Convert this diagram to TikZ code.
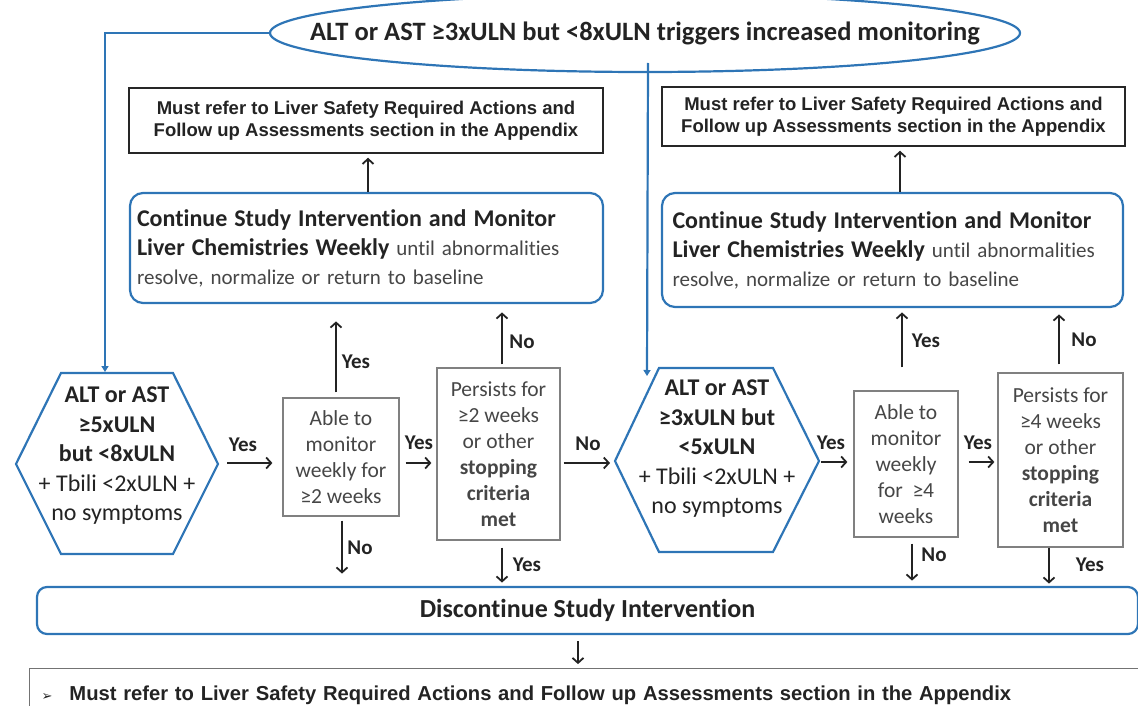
\documentclass[tikz,border=0pt]{standalone}
\usepackage{fontspec}
\setmainfont{Carlito}[Ligatures=NoCommon]
\newfontfamily\arialb{Liberation Sans}
\newfontfamily\dejavu{DejaVu Sans}
\usetikzlibrary{arrows.meta,shapes.geometric}
\definecolor{lblue}{RGB}{46,117,182}
\definecolor{txt}{RGB}{35,35,35}
\definecolor{gtxt}{RGB}{70,70,70}
\tikzset{
  bluebox/.style={draw=lblue, line width=2.2pt, rounded corners=13pt},
  refbox/.style={draw=black!85, line width=1.5pt, text=txt, font=\arialb\bfseries\fontsize{18.5}{22}\selectfont, align=center, inner sep=0pt},
  qbox/.style={draw=black!50, line width=1.2pt, text=gtxt, font=\fontsize{21.5}{26}\selectfont, align=center, inner sep=0pt},
  hexline/.style={draw=lblue, line width=2.2pt, line join=miter},
  hextext/.style={font=\fontsize{24}{29.5}\selectfont, align=center, text=txt, inner sep=0pt},
  conn/.style={draw=txt, line width=1.8pt, -{Straight Barb[length=5pt,width=11pt]}},
  bconn/.style={draw=lblue, line width=2.2pt, -{Triangle[length=6pt,width=7pt]}},
  lab/.style={font=\bfseries\fontsize{21}{22}\selectfont, text=txt, inner sep=0pt},
  contbox/.style={bluebox, text=gtxt, font=\fontsize{21}{29}\selectfont, align=left, inner sep=0pt},
}
\begin{document}
\begin{tikzpicture}[x=1pt,y=-1pt]
\useasboundingbox (0,0) rectangle (1138,706);

% top ellipse
\node[draw=lblue, line width=2.2pt, ellipse, minimum width=750pt, minimum height=78pt,
      inner xsep=-80pt, inner ysep=0pt,
      text=txt, font=\bfseries\fontsize{26.5}{28}\selectfont] (top) at (645,33)
  {ALT or AST ≥3xULN but <8xULN triggers increased monitoring};

% reference boxes
\node[refbox, minimum width=474pt, minimum height=65pt] (refL) at (366,120.5)
  {Must refer to Liver Safety Required Actions and\\Follow up Assessments section in the Appendix};
\node[refbox, minimum width=463pt, minimum height=59pt] (refR) at (893.5,116.5)
  {Must refer to Liver Safety Required Actions and\\Follow up Assessments section in the Appendix};

% continue boxes
\node[contbox, minimum width=473pt, minimum height=110pt, text width=459pt] (contL) at (366.5,248)
  {{\bfseries\color{txt}\fontsize{24}{29}\selectfont Continue Study Intervention and Monitor}\\
   {\bfseries\color{txt}\fontsize{24}{29}\selectfont Liver Chemistries Weekly} until abnormalities\\
   resolve, normalize or return to baseline};
\node[contbox, minimum width=461pt, minimum height=114pt, text width=440pt] (contR) at (892.5,250)
  {{\bfseries\color{txt}\fontsize{24}{29}\selectfont Continue Study Intervention and Monitor}\\
   {\bfseries\color{txt}\fontsize{24}{29}\selectfont Liver Chemistries Weekly} until abnormalities\\
   resolve, normalize or return to baseline};

% hexagons
\draw[hexline] (16,464) -- (61,373) -- (173,373) -- (218,464) -- (173,554) -- (61,554) -- cycle;
\node[hextext] (hexL) at (117,456)
  {\textbf{ALT or AST}\\\textbf{≥5xULN}\\\textbf{but <8xULN}\\+ Tbili <2xULN +\\no symptoms};
\draw[hexline] (615,461) -- (659,368) -- (773,368) -- (819,461) -- (773,552) -- (659,552) -- cycle;
\node[hextext] (hexR) at (717,449)
  {\textbf{ALT or AST}\\\textbf{≥3xULN but}\\\textbf{<5xULN}\\+ Tbili <2xULN +\\no symptoms};
\coordinate (hexLtop) at (105,372);
\coordinate (hexLe) at (218,463);
\coordinate (hexRtop) at (647,376);
\coordinate (hexRw) at (615,463);
\coordinate (hexRe) at (819,462);
\coordinate (topdrop) at (648,63);

% question boxes
\node[qbox, minimum width=116pt, minimum height=118pt] (box1) at (341,457)
  {Able to\\monitor\\weekly for\\≥2 weeks};
\node[qbox, minimum width=123pt, minimum height=172pt] (box2) at (498.5,454)
  {Persists for\\≥2 weeks\\or other\\\textbf{stopping}\\\textbf{criteria}\\\textbf{met}};
\node[qbox, minimum width=104pt, minimum height=146pt] (box3) at (906,464)
  {Able to\\monitor\\weekly\\for \ ≥4\\weeks};
\node[qbox, minimum width=125pt, minimum height=174pt] (box4) at (1060.5,460)
  {Persists for\\≥4 weeks\\or other\\\textbf{stopping}\\\textbf{criteria}\\\textbf{met}};

% discontinue
\node[bluebox, rounded corners=10pt, minimum width=1101pt, minimum height=47pt, inner sep=0pt,
      text=txt, font=\bfseries\fontsize{26}{28}\selectfont] (disc) at (587.5,610.5)
  {Discontinue Study Intervention};

% final box
\node[draw=black!55, line width=1.2pt, anchor=north west, minimum width=1140pt, minimum height=54pt,
      text width=1120pt, align=left, inner xsep=12pt, inner ysep=0pt, text=txt,
      font=\arialb\bfseries\fontsize{20.2}{22}\selectfont] (final) at (29,668)
  {{\dejavu\fontsize{13}{22}\selectfont ➢}\hspace{17pt}Must refer to Liver Safety Required Actions and Follow up Assessments section in the Appendix};

% blue connectors
\draw[bconn] (top.west) -| (hexLtop);
\draw[bconn] (topdrop) -- (hexRtop);

% black connectors
\draw[conn] ([xshift=1.5pt]contL.north) -- ([xshift=2pt,yshift=-4pt]refL.south);
\draw[conn] ([xshift=7.5pt]contR.north) -- ([xshift=6.5pt,yshift=-4pt]refR.south);

\draw[conn] ([xshift=9pt]hexLe) -- ([xshift=-10pt,yshift=-6pt]box1.west);
\node[lab] (y1) at (243,445) {Yes};
\draw[conn] ([xshift=-5pt,yshift=5pt]box1.north) -- ([xshift=-5pt,yshift=76pt]box1.north);
\node[lab] (y2) at (356,362) {Yes};
\draw[conn] ([xshift=1pt,yshift=-4pt]box1.south) -- ([xshift=1pt,yshift=-57pt]box1.south);
\node[lab] (n1) at (360,548) {No};
\draw[conn] ([xshift=6pt,yshift=-6pt]box1.east) -- ([xshift=-5pt,yshift=-9pt]box2.west);
\node[lab] (y3) at (419,443) {Yes};
\draw[conn] ([xshift=3.5pt,yshift=3pt]box2.north) -- ([xshift=3.5pt,yshift=55pt]box2.north);
\node[lab] (n2) at (522,342) {No};
\draw[conn] ([xshift=3.5pt,yshift=-7pt]box2.south) -- ([xshift=3.5pt,yshift=-42pt]box2.south);
\node[lab] (y4) at (527,565) {Yes};
\draw[conn] ([xshift=3pt,yshift=-9pt]box2.east) -- ([xshift=-5pt]hexRw);
\node[lab] (n3) at (588,444) {No};

\draw[conn] ([xshift=2pt]hexRe) -- ([xshift=-6pt,yshift=2pt]box3.west);
\node[lab] (y5) at (831,443) {Yes};
\draw[conn] ([xshift=-4pt,yshift=23pt]box3.north) -- ([xshift=-4pt,yshift=78pt]box3.north);
\node[lab] (y6) at (926,341) {Yes};
\draw[conn] ([xshift=6pt,yshift=-6pt]box3.south) -- ([xshift=6pt,yshift=-43pt]box3.south);
\node[lab] (n4) at (934,555) {No};
\draw[conn] ([xshift=10pt,yshift=2pt]box3.east) -- ([xshift=-3pt,yshift=-2pt]box4.west);
\node[lab] (y7) at (978,443) {Yes};
\draw[conn] ([xshift=-1.5pt,yshift=8pt]box4.north) -- ([xshift=-1.5pt,yshift=58pt]box4.north);
\node[lab] (n5) at (1084,340) {No};
\draw[conn] ([xshift=-11.5pt]box4.south) -- ([xshift=-11.5pt,yshift=-36pt]box4.south);
\node[lab] (y8) at (1090,565) {Yes};

\draw[conn] ([xshift=-9.5pt,yshift=-6pt]disc.south) -- ([xshift=-9.5pt,yshift=-29pt]disc.south);
\end{tikzpicture}
\end{document}
